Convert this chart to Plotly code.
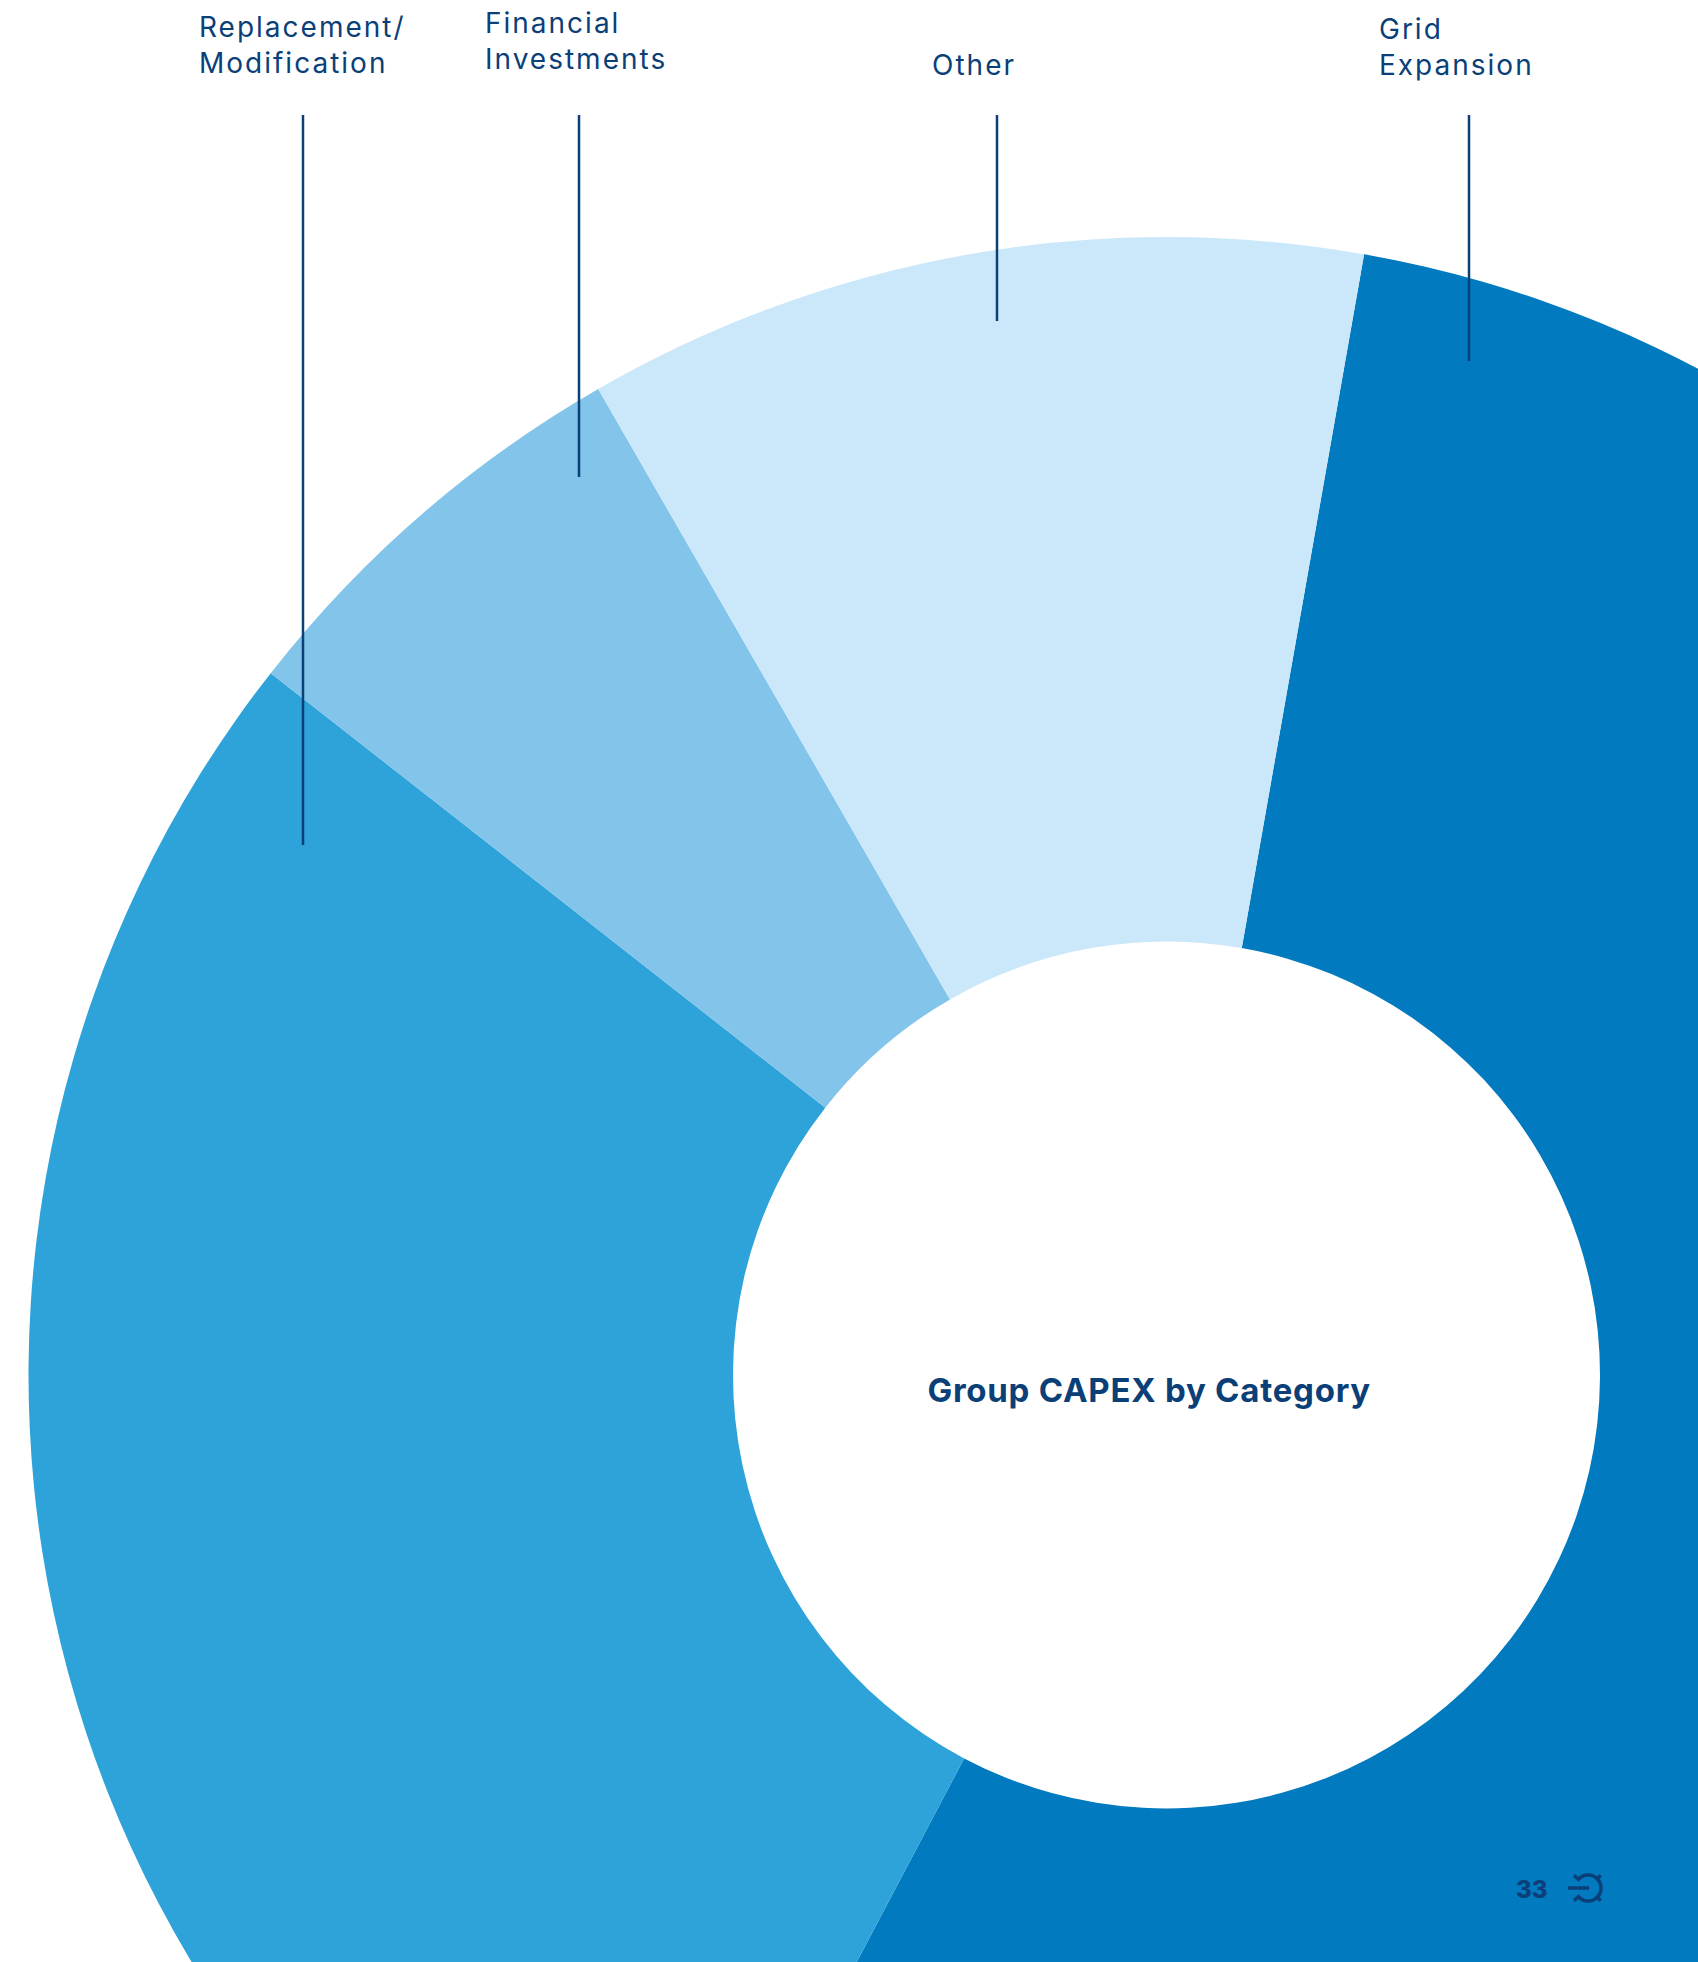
import math
import plotly.graph_objects as go

categories = ["Grid Expansion", "Replacement/Modification", "Financial Investments", "Other"]
shares = [54.95, 27.85, 6.1, 11.1]
slice_colors = ["#017ABF", "#2EA3DA", "#82C4EA", "#CBE8FB"]
label_texts = ["Replacement/<br>Modification", "Financial<br>Investments", "Other", "Grid<br>Expansion"]
label_x = [198, 484, 931, 1378]
label_y = [9, 5, 47, 11]
leader_x = [303, 579, 997, 1469]
leader_end = [845, 477, 321, 361]
leader_top = 115
title_text = "Group CAPEX by Category"
page_number = "33"

NAVY = "#0B3F78"
FONT = "Inter"
W, H = 2332, 2750
CX, CY, R = 1166.5, 1375, 1138


def px(x):
    return x / W


def py(y):
    return 1 - y / H


fig = go.Figure(
    go.Pie(
        labels=categories,
        values=shares,
        hole=433.5 / R,
        sort=False,
        direction="clockwise",
        rotation=10,
        marker=dict(colors=slice_colors, line=dict(width=0)),
        textinfo="none",
        hoverinfo="label+percent",
        showlegend=False,
        domain=dict(x=[px(CX - R), px(CX + R)], y=[py(CY + R), py(CY - R)]),
    )
)

annotations = []
for text, x, y in zip(label_texts, label_x, label_y):
    annotations.append(
        dict(text=text, x=px(x), y=py(y), xref="paper", yref="paper", xanchor="left", yanchor="top",
             align="left", showarrow=False, borderpad=0,
             font=dict(family=FONT, size=28, color=NAVY, weight=400))
    )
annotations.append(
    dict(text=title_text, x=px(1149), y=py(1390), xref="paper", yref="paper", xanchor="center",
         yanchor="middle", showarrow=False, font=dict(family=FONT, size=33, color=NAVY, weight=700))
)
annotations.append(
    dict(text=page_number, x=px(1532), y=py(1889), xref="paper", yref="paper", xanchor="center",
         yanchor="middle", showarrow=False, font=dict(family=FONT, size=24, color=NAVY, weight=800))
)

shapes = []
for x, end in zip(leader_x, leader_end):
    shapes.append(dict(type="line", xref="paper", yref="paper", x0=px(x), x1=px(x), y0=py(leader_top), y1=py(end),
                       line=dict(color=NAVY, width=2.5)))


# small page icon: open ring with a dash and four radial nubs
def polyline(points):
    return "M " + " L ".join(f"{px(x):.6f},{py(y):.6f}" for x, y in points)


def polar(r, a):
    return (icx + r * math.cos(math.radians(a)), icy + r * math.sin(math.radians(a)))


icx, icy, icr = 1588, 1888, 13
arc = [polar(icr, a) for a in range(-138, 139, 6)]
icon_paths = [polyline(arc), polyline([(1568, 1888), (1589, 1888)])]
for a, r0, r1 in ((-138, 11, 19), (138, 11, 19), (-45, 13, 18), (45, 13, 18)):
    icon_paths.append(polyline([polar(r0, a), polar(r1, a)]))
for p in icon_paths:
    shapes.append(dict(type="path", xref="paper", yref="paper", path=p, line=dict(color=NAVY, width=3.5)))

fig.update_layout(
    width=W,
    height=H,
    autosize=False,
    margin=dict(l=0, r=0, t=0, b=0),
    paper_bgcolor="white",
    plot_bgcolor="white",
    annotations=annotations,
    shapes=shapes,
)

fig.write_html(
    "out.html",
    config=dict(displayModeBar=False),
    post_script="document.body.style.margin='0';document.body.style.overflow='hidden';"
    "document.documentElement.style.overflow='hidden';"
    "document.querySelectorAll('.annotation-text').forEach(function(t){"
    "var s=t.textContent.indexOf('Group')===0?'0.75px':(t.textContent==='33'?'0px':'2px');"
    "t.style.letterSpacing=s;});",
)
